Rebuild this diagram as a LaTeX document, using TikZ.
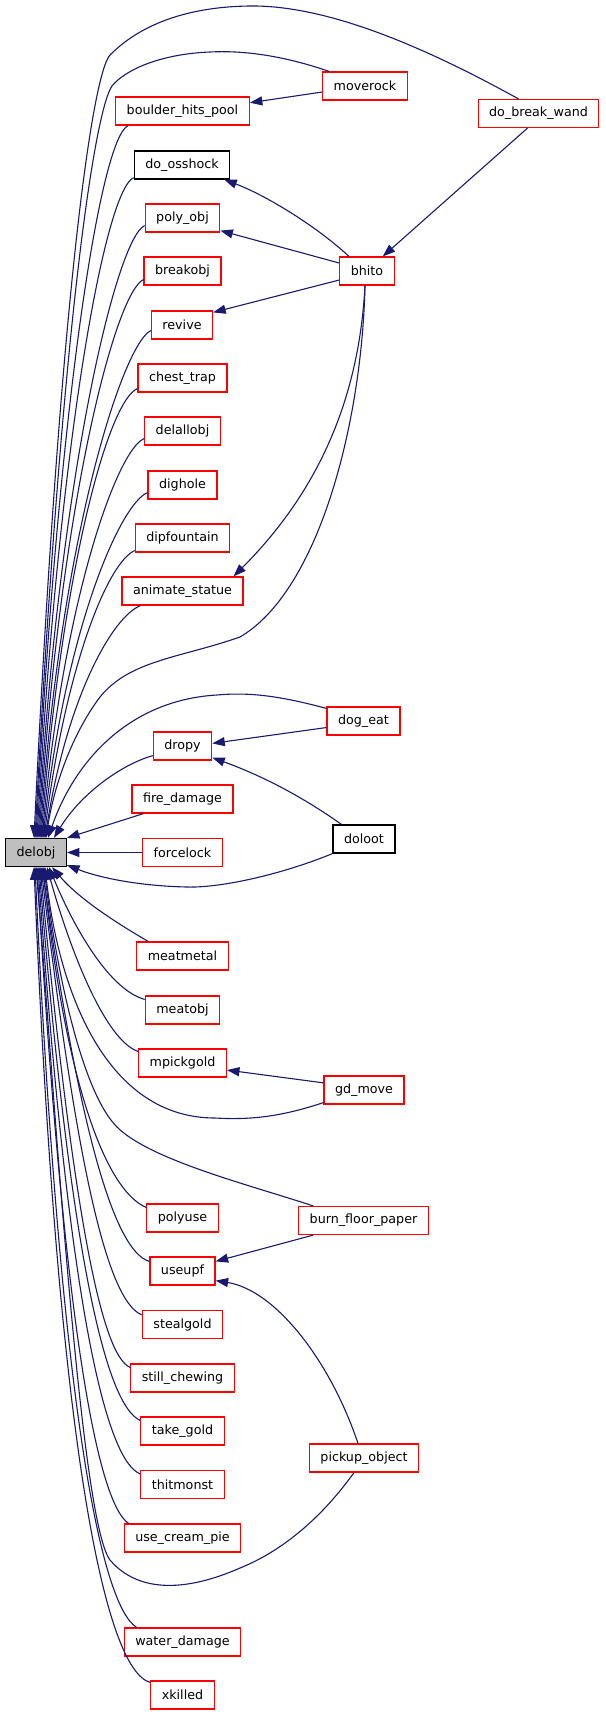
\documentclass[tikz,border=0pt]{standalone}
\usepackage{fontspec}
\setmainfont{DejaVu Sans}
\usepackage{tikz}
\usetikzlibrary{arrows.meta}
\definecolor{edgeblue}{HTML}{191970}
\definecolor{boxred}{HTML}{FF0000}
\tikzset{
    fnode/.style={draw=boxred, line width=1.2pt, fill=white, minimum height=28pt,
        inner xsep=11pt, inner ysep=0pt, font=\fontsize{12.7}{14}\selectfont},
    fnodeblack/.style={fnode, draw=black},
    callline/.style={draw=edgeblue, line width=1.1pt, -{Triangle[length=12.5pt,width=9pt]}},
}

\begin{document}
\begin{tikzpicture}[x=1pt, y=-1pt]
\useasboundingbox (0,0) rectangle (605,1715);
% the called function
\node[fnodeblack, fill=gray!50] (delobj) at (36,852.5) {delobj};
% direct callers
\node[fnode] (boulder) at (182.5,111) {boulder\_hits\_pool};
\node[fnodeblack] (osshock) at (182,165) {do\_osshock};
\node[fnode] (polyobj) at (182.5,218) {poly\_obj};
\node[fnode] (breakobj) at (182.5,271) {breakobj};
\node[fnode] (revive) at (182,325) {revive};
\node[fnode] (chesttrap) at (182.5,378) {chest\_trap};
\node[fnode] (delallobj) at (182.5,431) {delallobj};
\node[fnode] (dighole) at (182.5,485) {dighole};
\node[fnode] (dipfountain) at (182.5,538) {dipfountain};
\node[fnode] (animatestatue) at (182.5,591) {animate\_statue};
\node[fnode] (dropy) at (182.5,746) {dropy};
\node[fnode] (firedamage) at (182.5,799) {fire\_damage};
\node[fnode] (forcelock) at (182.5,852.5) {forcelock};
\node[fnode] (meatmetal) at (182.5,956) {meatmetal};
\node[fnode] (meatobj) at (182.5,1010) {meatobj};
\node[fnode] (mpickgold) at (182.5,1063) {mpickgold};
\node[fnode] (polyuse) at (182.5,1218) {polyuse};
\node[fnode] (useupf) at (182.5,1271) {useupf};
\node[fnode] (stealgold) at (182.5,1324.5) {stealgold};
\node[fnode] (stillchewing) at (182.5,1378) {still\_chewing};
\node[fnode] (takegold) at (182.5,1431) {take\_gold};
\node[fnode] (thitmonst) at (182.5,1484.5) {thitmonst};
\node[fnode] (usecreampie) at (182.5,1538) {use\_cream\_pie};
\node[fnode] (waterdamage) at (182.5,1642) {water\_damage};
\node[fnode] (xkilled) at (182.5,1695) {xkilled};
% second level callers
\node[fnode] (moverock) at (365,86) {moverock};
\node[fnode] (dobreakwand) at (538.5,113.5) {do\_break\_wand};
\node[fnode] (bhito) at (367,271) {bhito};
\node[fnode] (dogeat) at (363.5,721) {dog\_eat};
\node[fnodeblack] (doloot) at (364,839) {doloot};
\node[fnode] (gdmove) at (364,1090) {gd\_move};
\node[fnode] (burnfloorpaper) at (363.5,1220.5) {burn\_floor\_paper};
\node[fnode] (pickupobject) at (364,1458) {pickup\_object};

% edges into delobj from above
\draw[callline] ([xshift=41pt]dobreakwand.north west) .. controls (430,50) and (330,5) .. (250,6)
    .. controls (170,7) and (130,35) .. (110,55) .. controls (92,75) and (60,300) .. ([xshift=-2pt]delobj.north);
\draw[callline] ([xshift=7pt]moverock.north west) .. controls (290,58) and (250,50) .. (210,52)
    .. controls (160,54) and (125,70) .. (112,86) .. controls (95,110) and (62,320) .. ([xshift=-1pt]delobj.north);
\draw[callline] ([xshift=13pt]boulder.south west) .. controls (100,138) and (58,410) .. (delobj.north);
\draw[callline] ([yshift=2pt]osshock.south west) .. controls (105,190) and (59,441) .. ([xshift=1pt]delobj.north);
\draw[callline] ([yshift=7pt]polyobj.south west) .. controls (117,238) and (60,470) .. ([xshift=2pt]delobj.north);
\draw[callline] ([yshift=6pt]breakobj.south west) .. controls (116,292) and (61,497) .. ([xshift=3pt]delobj.north);
\draw[callline] ([yshift=9pt]revive.south west) .. controls (124,343) and (62,528) .. ([xshift=4pt]delobj.north);
\draw[callline] ([yshift=4pt]chesttrap.south west) .. controls (109,400) and (63,563) .. ([xshift=5pt]delobj.north);
\draw[callline] ([yshift=7pt]delallobj.south west) .. controls (117,450) and (64,598) .. ([xshift=6pt]delobj.north);
\draw[callline] ([yshift=7pt]dighole.south west) .. controls (120,504) and (65,630) .. ([xshift=7pt]delobj.north);
\draw[callline] ([yshift=2pt]dipfountain.south west) .. controls (108,562) and (66,665) .. ([xshift=8pt]delobj.north);
\draw[callline] ([xshift=19pt]animatestatue.south west) .. controls (112,617) and (67,698) .. ([xshift=9pt]delobj.north);
\draw[callline] ([xshift=-2pt]bhito.south) .. controls (362,420) and (320,590) .. (240,637)
    .. controls (180,658) and (130,660) .. (100,697) .. controls (75,730) and (55,780) .. ([xshift=10pt]delobj.north);
\draw[callline] ([yshift=-2pt]dogeat.north west) .. controls (280,696) and (250,692) .. (217,695)
    .. controls (130,700) and (75,760) .. ([xshift=12pt]delobj.north);
\draw[callline] ([yshift=5pt]dropy.south west) .. controls (120,765) and (80,795) .. ([xshift=18pt]delobj.north);
\draw[callline] ([xshift=12pt]firedamage.south west) -- (delobj.north east);
\draw[callline] (forcelock.west) -- (delobj.east);
\draw[callline] (doloot.south west) .. controls (280,875) and (220,888) .. (187,887)
    .. controls (140,886) and (100,878) .. ([yshift=2pt]delobj.south east);

% edges into delobj from below
\draw[callline] ([xshift=12pt]meatmetal.north west) .. controls (120,925) and (80,900) .. ([xshift=16pt]delobj.south);
\draw[callline] ([yshift=-4pt]meatobj.north west) .. controls (110,990) and (75,930) .. ([xshift=13pt]delobj.south);
\draw[callline] ([yshift=-3pt]mpickgold.north west) .. controls (105,1040) and (70,950) .. ([xshift=11pt]delobj.south);
\draw[callline] ([yshift=2pt]gdmove.south west) .. controls (280,1117) and (250,1120) .. (215,1118)
    .. controls (110,1118) and (60,1000) .. ([xshift=9pt]delobj.south);
\draw[callline] ([xshift=15pt]burnfloorpaper.north west) .. controls (250,1185) and (150,1160) .. (117,1127)
    .. controls (80,1090) and (55,960) .. ([xshift=8pt]delobj.south);
\draw[callline] ([yshift=-4pt]polyuse.north west) .. controls (105,1190) and (65,1080) .. ([xshift=7pt]delobj.south);
\draw[callline] ([yshift=-5pt]useupf.north west) .. controls (110,1250) and (75,1100) .. ([xshift=6pt]delobj.south);
\draw[callline] ([yshift=-5pt]stealgold.north west) .. controls (105,1300) and (75,1150) .. ([xshift=5pt]delobj.south);
\draw[callline] ([yshift=-4pt]stillchewing.north west) .. controls (100,1355) and (72,1200) .. ([xshift=4pt]delobj.south);
\draw[callline] ([yshift=-4pt]takegold.north west) .. controls (105,1405) and (70,1250) .. ([xshift=3pt]delobj.south);
\draw[callline] ([yshift=-4pt]thitmonst.north west) .. controls (105,1460) and (68,1300) .. ([xshift=2pt]delobj.south);
\draw[callline] ([xshift=5pt]usecreampie.north west) .. controls (100,1505) and (65,1350) .. ([xshift=1pt]delobj.south);
\draw[callline] ([xshift=-10pt]pickupobject.south) .. controls (320,1520) and (280,1552) .. (240,1568)
    .. controls (190,1590) and (140,1595) .. (110,1560) .. controls (80,1520) and (55,1100) .. (delobj.south);
\draw[callline] ([xshift=13pt]waterdamage.north west) .. controls (100,1605) and (60,1400) .. ([xshift=-1pt]delobj.south);
\draw[callline] ([yshift=-2pt]xkilled.north west) .. controls (105,1670) and (58,1450) .. ([xshift=-2pt]delobj.south);

% edges between callers
\draw[callline] (moverock.188) -- (boulder.7);
\draw[callline] ([xshift=-11pt]dobreakwand.south) -- ([xshift=-12pt]bhito.north east);
\draw[callline] ([xshift=-18pt]bhito.north) .. controls (315,225) and (265,195) .. ([xshift=-6pt]osshock.south east);
\draw[callline] (bhito.164) -- ([yshift=2pt]polyobj.south east);
\draw[callline] (bhito.198) -- ([yshift=-2pt]revive.north east);
\draw[callline] ([xshift=-2pt]bhito.south) .. controls (360,380) and (330,480) .. ([xshift=-10pt]animatestatue.north east);
\draw[callline] (dogeat.190) -- (dropy.5);
\draw[callline] ([xshift=9pt]doloot.north west) .. controls (300,795) and (260,775) .. ([yshift=3pt]dropy.south east);
\draw[callline] (gdmove.170) -- (mpickgold.-9);
\draw[callline] ([xshift=15pt]burnfloorpaper.south west) -- ([yshift=-5pt]useupf.north east);
\draw[callline] ([xshift=-6pt]pickupobject.north) .. controls (330,1360) and (275,1290) .. ([yshift=5pt]useupf.south east);
\end{tikzpicture}
\end{document}
